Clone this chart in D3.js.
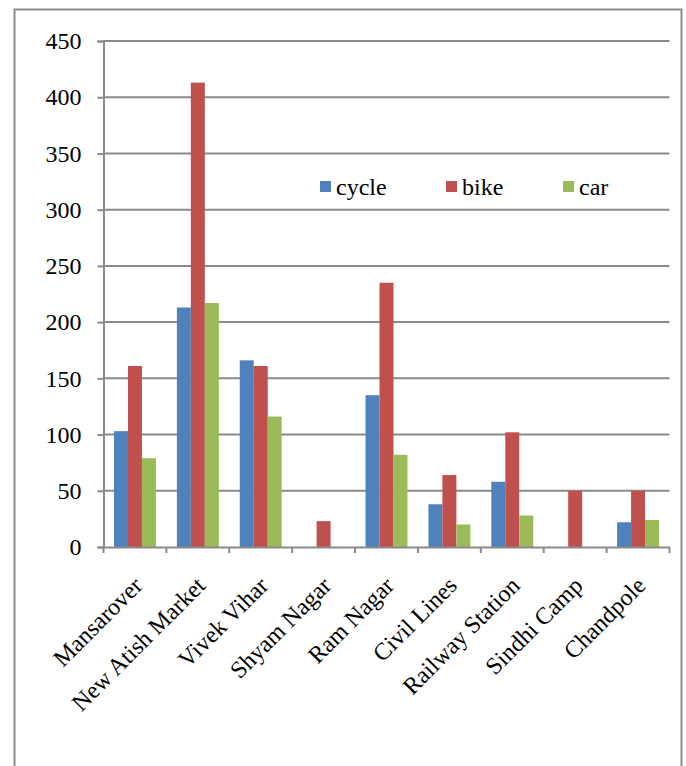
<!DOCTYPE html>
<html><head><meta charset="utf-8">
<script src="https://cdn.jsdelivr.net/npm/d3@7"></script>
</head><body style="margin:0">
<script>
const categories = ["Mansarover","New Atish Market","Vivek Vihar","Shyam Nagar","Ram Nagar","Civil Lines","Railway Station","Sindhi Camp","Chandpole"];
const seriesNames = ["cycle","bike","car"];
const cycle = [103,213,166,0,135,38,58,0,22];
const bike = [161,413,161,23,235,64,102,50,50];
const car = [79,217,116,0,82,20,28,0,24];
const yTicks = [0,50,100,150,200,250,300,350,400,450];
const colors = ["#4F81BD","#C0504D","#9BBB59"];
const seriesValues = [cycle,bike,car];

const W=686,H=766;
const FAM="Liberation Serif";
const svg=d3.select("body").append("svg").attr("width",W).attr("height",H)
  .style("display","block").style("font-family",FAM);
svg.append("rect").attr("x",14.5).attr("y",9.5).attr("width",667).attr("height",770)
  .attr("fill","none").attr("stroke","#8c8c8c").attr("stroke-width",2);

const x0=103.5,x1=669.5,yTop=41,yBot=547;
const x=d3.scaleBand().domain(categories).range([x0,x1]).paddingInner(0).paddingOuter(0);
const xs=d3.scaleBand().domain(seriesNames).range([0,x.bandwidth()]).paddingInner(0).paddingOuter(0.75);
const y=d3.scaleLinear().domain([0,450]).range([yBot,yTop]);

// gridlines
svg.append("g").selectAll("line").data(yTicks.filter(d=>d>0)).join("line")
  .attr("x1",x0).attr("x2",x1).attr("y1",d=>y(d)).attr("y2",d=>y(d))
  .attr("stroke","#8a8a8a").attr("stroke-width",2);

// bars
seriesNames.forEach((s,i)=>{
  svg.append("g").selectAll("rect").data(categories).join("rect")
    .attr("x",c=>x(c)+xs(s)).attr("width",xs.bandwidth())
    .attr("y",(c,j)=>y(seriesValues[i][j])).attr("height",(c,j)=>yBot-y(seriesValues[i][j]))
    .attr("fill",colors[i]);
});

// y axis
const ya=svg.append("g").attr("transform",`translate(${x0},0)`)
  .call(d3.axisLeft(y).tickValues(yTicks).tickSize(6).tickPadding(16));
ya.attr("font-family",FAM).attr("font-size",24);
ya.select(".domain").attr("stroke","#8a8a8a").attr("stroke-width",2);
ya.selectAll(".tick line").attr("stroke","#8a8a8a").attr("stroke-width",2);
ya.selectAll(".tick text").attr("font-family",FAM).attr("font-size",24).attr("fill","#000");

// x axis
const xa=svg.append("g").attr("transform",`translate(0,${yBot})`)
  .call(d3.axisBottom(x).tickSize(0).tickFormat(""));
xa.select(".domain").attr("stroke","#8a8a8a").attr("stroke-width",2);
xa.selectAll(".tick").remove();
svg.append("g").selectAll("line").data(d3.range(categories.length+1)).join("line")
  .attr("x1",i=>x0+i*x.step()).attr("x2",i=>x0+i*x.step())
  .attr("y1",yBot).attr("y2",yBot+6).attr("stroke","#8a8a8a").attr("stroke-width",2);
svg.append("g").attr("font-family",FAM).attr("font-size",24).selectAll("text").data(categories).join("text")
  .attr("transform",c=>`translate(${x(c)+x.bandwidth()/2+9},${yBot+40}) rotate(-45)`)
  .attr("text-anchor","end").attr("fill","#000")
  .text(c=>c);

// legend
const legX=[320,446,563];
const lg=svg.append("g").attr("font-family",FAM).attr("font-size",24);
seriesNames.forEach((s,i)=>{
  lg.append("rect").attr("x",legX[i]).attr("y",181).attr("width",11).attr("height",11).attr("fill",colors[i]);
  lg.append("text").attr("x",legX[i]+16).attr("y",195).text(s);
});
</script>
</body></html>
